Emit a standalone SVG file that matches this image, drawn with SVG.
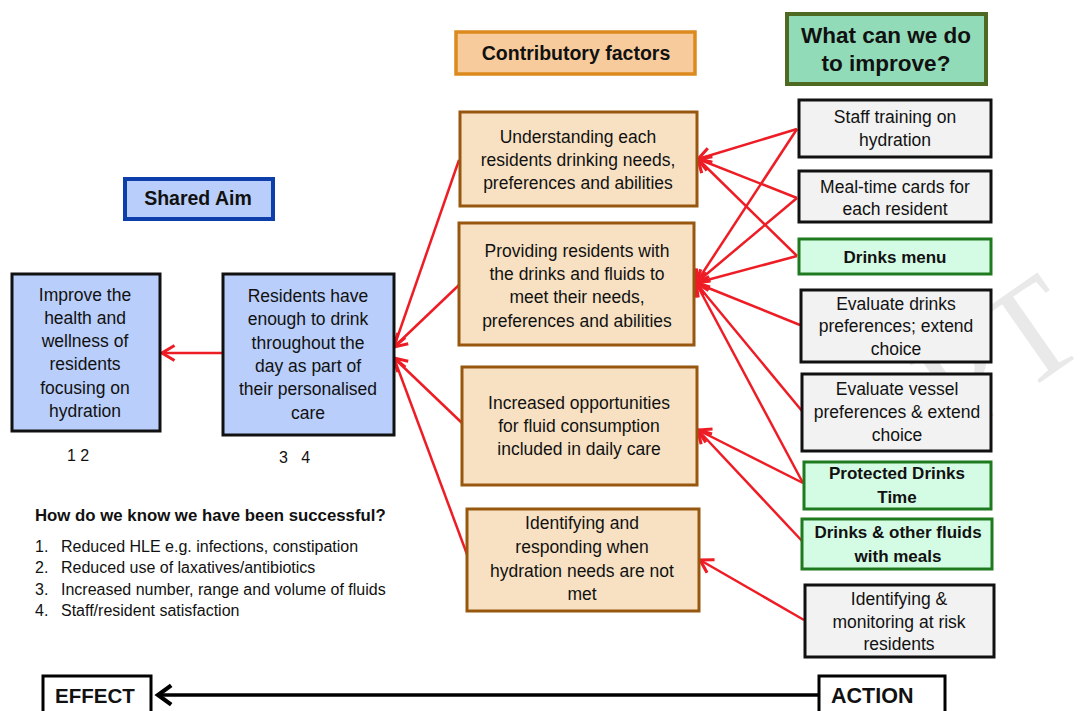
<svg xmlns="http://www.w3.org/2000/svg" width="1080" height="711" viewBox="0 0 1080 711">
<style>
text{font-family:"Liberation Sans",Arial,sans-serif;fill:#111;}
.t{font-size:17.5px;text-anchor:middle;}
.tb{font-size:17px;font-weight:bold;text-anchor:middle;}
.h{font-weight:bold;text-anchor:middle;}
.blue{fill:#b9cefa;stroke:#111;stroke-width:3;}
.fac{fill:#f8e1c3;stroke:#98570f;stroke-width:3;}
.gray{fill:#f2f2f2;stroke:#111;stroke-width:3;}
.grn{fill:#d4fce4;stroke:#1f7a1f;stroke-width:3;}
.red{stroke:#ee1c25;stroke-width:2.5;fill:none;marker-end:url(#ah);}
.lst{font-size:16px;}
</style>
<defs>
<marker id="ah" markerUnits="userSpaceOnUse" markerWidth="20" markerHeight="20" viewBox="-12 -8 14 16" refX="0" refY="0" orient="auto">
<path d="M-10,-6 L0,0 L-10,6" fill="none" stroke="#ee1c25" stroke-width="2.5"/>
</marker>
<marker id="bh" markerUnits="userSpaceOnUse" markerWidth="24" markerHeight="24" viewBox="-14 -10 16 20" refX="0" refY="0" orient="auto">
<path d="M-11,-8 L0,0 L-11,8" fill="none" stroke="#000" stroke-width="3.5"/>
</marker>
</defs>
<rect width="1080" height="711" fill="#fff"/>
<text x="0" y="0" transform="translate(958,440) rotate(-35)" style="font-family:'Liberation Serif',serif;font-size:140px;fill:#e9e9e9;">PT</text>

<g id="connectors">
<line class="red" x1="222" y1="353" x2="162" y2="353"/>
<line class="red" x1="459" y1="160" x2="394" y2="347"/>
<line class="red" x1="459" y1="285" x2="394" y2="347"/>
<line class="red" x1="462" y1="423" x2="394" y2="358"/>
<line class="red" x1="468" y1="557" x2="394" y2="358"/>
<line class="red" x1="797" y1="129" x2="698" y2="159"/>
<line class="red" x1="797" y1="129" x2="696" y2="283"/>
<line class="red" x1="797" y1="198" x2="698" y2="159"/>
<line class="red" x1="797" y1="198" x2="696" y2="283"/>
<line class="red" x1="797" y1="256" x2="698" y2="159"/>
<line class="red" x1="797" y1="256" x2="696" y2="283"/>
<line class="red" x1="800" y1="325" x2="696" y2="283"/>
<line class="red" x1="802" y1="411" x2="696" y2="283"/>
<line class="red" x1="803" y1="483" x2="696" y2="283"/>
<line class="red" x1="803" y1="483" x2="698" y2="430"/>
<line class="red" x1="803" y1="542" x2="698" y2="430"/>
<line class="red" x1="804" y1="620" x2="700" y2="560"/>
<line x1="818" y1="695" x2="158" y2="695" stroke="#000" stroke-width="3.5" marker-end="url(#bh)"/>
</g>

<g id="hdr-contrib">
<rect x="456" y="32" width="239" height="42" fill="#f7cb9b" stroke="#dc8a1e" stroke-width="3.5"/>
<text class="h" x="576" y="60" style="font-size:19.5px;">Contributory factors</text>
</g>
<g id="hdr-improve">
<rect x="787" y="14" width="199" height="70" fill="#92dbb8" stroke="#4e6a22" stroke-width="4"/>
<text class="h" x="886" y="43" style="font-size:22.5px;">What can we do</text>
<text class="h" x="886" y="71" style="font-size:22.5px;">to improve?</text>
</g>
<g id="hdr-aim">
<rect x="125" y="179" width="148" height="40" fill="#b9cefa" stroke="#0e3eaa" stroke-width="4"/>
<text class="h" x="198" y="205" style="font-size:19.5px;">Shared Aim</text>
</g>

<g id="aim1">
<rect class="blue" x="12" y="274" width="148" height="157"/>
<text class="t" x="85" y="301">Improve the</text>
<text class="t" x="85" y="324">health and</text>
<text class="t" x="85" y="347">wellness of</text>
<text class="t" x="85" y="370">residents</text>
<text class="t" x="85" y="394">focusing on</text>
<text class="t" x="85" y="417">hydration</text>
</g>
<text x="67" y="461" style="font-size:16px;">1 2</text>
<g id="aim2">
<rect class="blue" x="223" y="274" width="171" height="161"/>
<text class="t" x="308" y="302">Residents have</text>
<text class="t" x="308" y="325">enough to drink</text>
<text class="t" x="308" y="349">throughout the</text>
<text class="t" x="308" y="372">day as part of</text>
<text class="t" x="308" y="395">their personalised</text>
<text class="t" x="308" y="419">care</text>
</g>
<text x="279" y="463" style="font-size:16px;" xml:space="preserve">3   4</text>

<g id="f1">
<rect class="fac" x="460" y="112" width="237" height="94"/>
<text class="t" x="578" y="143">Understanding each</text>
<text class="t" x="578" y="166">residents drinking needs,</text>
<text class="t" x="578" y="189">preferences and abilities</text>
</g>
<g id="f2">
<rect class="fac" x="459" y="223" width="235" height="122"/>
<text class="t" x="577" y="257">Providing residents with</text>
<text class="t" x="577" y="280">the drinks and fluids to</text>
<text class="t" x="577" y="303">meet their needs,</text>
<text class="t" x="577" y="327">preferences and abilities</text>
</g>
<g id="f3">
<rect class="fac" x="462" y="367" width="235" height="118"/>
<text class="t" x="579" y="409">Increased opportunities</text>
<text class="t" x="579" y="432">for fluid consumption</text>
<text class="t" x="579" y="455">included in daily care</text>
</g>
<g id="f4">
<rect class="fac" x="467" y="509" width="232" height="102"/>
<text class="t" x="582" y="529">Identifying and</text>
<text class="t" x="582" y="553">responding when</text>
<text class="t" x="582" y="577">hydration needs are not</text>
<text class="t" x="582" y="600">met</text>
</g>

<g id="r1">
<rect class="gray" x="799" y="100" width="192" height="57"/>
<text class="t" x="895" y="123">Staff training on</text>
<text class="t" x="895" y="146">hydration</text>
</g>
<g id="r2">
<rect class="gray" x="799" y="171" width="192" height="51"/>
<text class="t" x="895" y="193">Meal-time cards for</text>
<text class="t" x="895" y="215">each resident</text>
</g>
<g id="r3">
<rect class="grn" x="799" y="239" width="192" height="35"/>
<text class="tb" x="895" y="263">Drinks menu</text>
</g>
<g id="r4">
<rect class="gray" x="801" y="290" width="190" height="72"/>
<text class="t" x="896" y="310">Evaluate drinks</text>
<text class="t" x="896" y="332">preferences; extend</text>
<text class="t" x="896" y="355">choice</text>
</g>
<g id="r5">
<rect class="gray" x="802" y="374" width="189" height="77"/>
<text class="t" x="897" y="395">Evaluate vessel</text>
<text class="t" x="897" y="418">preferences &amp; extend</text>
<text class="t" x="897" y="441">choice</text>
</g>
<g id="r6">
<rect class="grn" x="804" y="462" width="187" height="47"/>
<text class="tb" x="897" y="479">Protected Drinks</text>
<text class="tb" x="897" y="503">Time</text>
</g>
<g id="r7">
<rect class="grn" x="802" y="519" width="190" height="50"/>
<text class="tb" x="898" y="538">Drinks &amp; other fluids</text>
<text class="tb" x="898" y="562">with meals</text>
</g>
<g id="r8">
<rect class="gray" x="805" y="585" width="189" height="72"/>
<text class="t" x="899" y="605">Identifying &amp;</text>
<text class="t" x="899" y="628">monitoring at risk</text>
<text class="t" x="899" y="650">residents</text>
</g>

<g id="success">
<text x="35" y="521" style="font-size:16.8px;font-weight:bold;">How do we know we have been successful?</text>
<text class="lst" x="35" y="552">1.</text><text class="lst" x="61" y="552">Reduced HLE e.g. infections, constipation</text>
<text class="lst" x="35" y="573">2.</text><text class="lst" x="61" y="573">Reduced use of laxatives/antibiotics</text>
<text class="lst" x="35" y="595">3.</text><text class="lst" x="61" y="595">Increased number, range and volume of fluids</text>
<text class="lst" x="35" y="616">4.</text><text class="lst" x="61" y="616">Staff/resident satisfaction</text>
</g>

<g id="effect">
<rect x="43" y="676" width="108" height="45" fill="#fff" stroke="#000" stroke-width="3"/>
<text x="55" y="703" style="font-size:20.5px;font-weight:bold;">EFFECT</text>
</g>
<g id="action">
<rect x="819" y="676" width="126" height="45" fill="#fff" stroke="#000" stroke-width="3"/>
<text x="831" y="703" style="font-size:21.5px;font-weight:bold;">ACTION</text>
</g>
</svg>
